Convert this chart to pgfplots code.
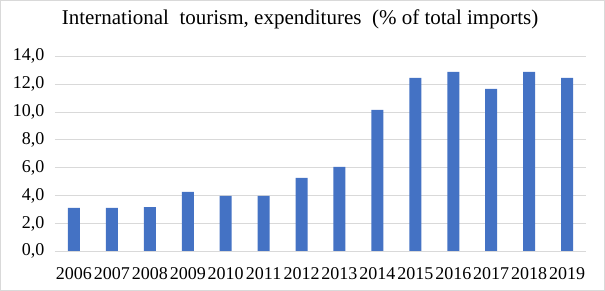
\documentclass[border=0pt]{standalone}
\usepackage{fontspec}
\setmainfont{Liberation Serif}
\usepackage{pgfplots}
\pgfplotsset{compat=1.18}
\definecolor{barblue}{HTML}{4472C4}
\definecolor{gridgray}{HTML}{D9D9D9}
\begin{document}
\begin{tikzpicture}[x=1pt,y=1pt]
\path[use as bounding box] (-55,-39.7) rectangle (550,251.3);
\draw[gridgray, line width=1pt] (-54.5,-39.2) rectangle (549.5,250.8);
\begin{axis}[
  at={(0,0)}, anchor=south west,
  scale only axis, width=531pt, height=195pt,
  xmin=-0.5, xmax=13.5, ymin=0, ymax=14,
  axis line style={draw=none},
  ytick={0,2,...,14},
  ymajorgrids, grid style={gridgray, line width=1pt},
  major tick length=0pt,
  xtick=data,
  xticklabels={2006,2007,2008,2009,2010,2011,2012,2013,2014,2015,2016,2017,2018,2019},
  /pgf/number format/assume math mode=true,
  /pgf/number format/fixed,
  /pgf/number format/fixed zerofill,
  /pgf/number format/precision=1,
  /pgf/number format/use comma,
  tick label style={font=\fontsize{18}{20}\selectfont},
  yticklabel style={xshift=-7pt},
  xticklabel style={yshift=-12.5pt},
]
\addplot[ybar, bar width=12pt, fill=barblue, draw=none] coordinates {
(0,3.11) (1,3.11) (2,3.18) (3,4.26) (4,3.97) (5,3.97) (6,5.27) (7,6.06)
(8,10.15) (9,12.45) (10,12.88) (11,11.66) (12,12.88) (13,12.45)};
\draw[gridgray, line width=1pt] (axis cs:-0.5,0) -- (axis cs:13.5,0);
\end{axis}
\node[font=\fontsize{21}{23}\selectfont] at (245,232) {International\ \ tourism,\ expenditures\ \ (\% of total imports)};
\end{tikzpicture}
\end{document}
